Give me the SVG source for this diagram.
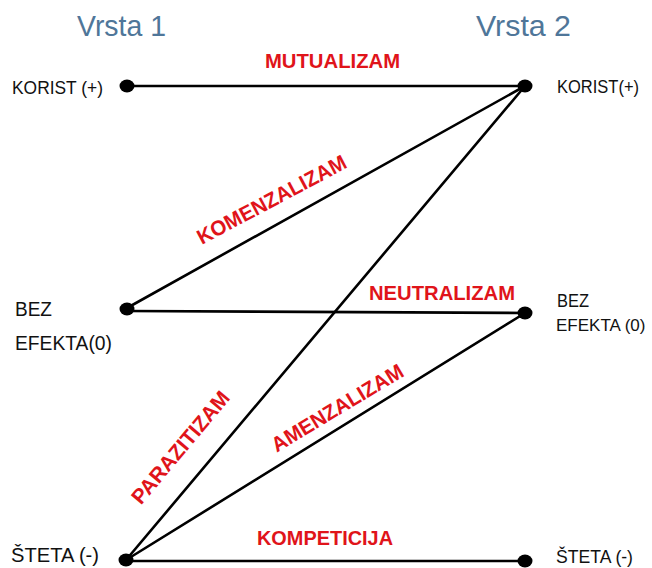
<svg xmlns="http://www.w3.org/2000/svg" width="652" height="568" viewBox="0 0 652 568">
<style>
.title{font-family:"Liberation Sans",Arial,sans-serif;font-size:30px;fill:#4f7699}
.lbl{font-family:"Liberation Sans",Arial,sans-serif;font-size:19px;fill:#111}
.rel{font-family:"Liberation Sans",Arial,sans-serif;font-size:21px;font-weight:bold;fill:#e0141a;text-anchor:middle}
.ln{stroke:#000;stroke-width:2.6;fill:none;stroke-linecap:round}
.dot{fill:#000}
</style>
<rect width="652" height="568" fill="#fff"/>
<text class="title" x="77" y="36" textLength="89" lengthAdjust="spacingAndGlyphs">Vrsta 1</text>
<text class="title" x="476" y="36" textLength="95" lengthAdjust="spacingAndGlyphs">Vrsta 2</text>
<g id="connectors">
<line class="ln" x1="127" y1="86" x2="525" y2="86"/>
<line class="ln" x1="127" y1="308" x2="525" y2="86"/>
<line class="ln" x1="127" y1="311" x2="525" y2="313"/>
<line class="ln" x1="126" y1="560" x2="525" y2="86"/>
<line class="ln" x1="126" y1="560" x2="525" y2="313"/>
<line class="ln" x1="126" y1="561" x2="525" y2="561"/>
</g>
<g id="labels">
<text class="rel" x="332.5" y="68" textLength="135" lengthAdjust="spacingAndGlyphs">MUTUALIZAM</text>
<text class="rel" transform="translate(275 206) rotate(-28)" textLength="166" lengthAdjust="spacingAndGlyphs">KOMENZALIZAM</text>
<text class="rel" x="442" y="300" textLength="146" lengthAdjust="spacingAndGlyphs">NEUTRALIZAM</text>
<text class="rel" transform="translate(186 452) rotate(-50)" textLength="140" lengthAdjust="spacingAndGlyphs">PARAZITIZAM</text>
<text class="rel" transform="translate(341 414) rotate(-31)" textLength="150" lengthAdjust="spacingAndGlyphs">AMENZALIZAM</text>
<text class="rel" x="325" y="545" textLength="136" lengthAdjust="spacingAndGlyphs">KOMPETICIJA</text>
</g>
<g id="v1-korist"><ellipse class="dot" cx="127" cy="86" rx="7.5" ry="6.5"/><text class="lbl" x="12" y="94" textLength="91" lengthAdjust="spacingAndGlyphs">KORIST (+)</text></g>
<g id="v1-bez"><ellipse class="dot" cx="127" cy="309" rx="7.5" ry="6.5"/><text class="lbl" x="15" y="316" style="font-size:20px" textLength="37" lengthAdjust="spacingAndGlyphs">BEZ</text><text class="lbl" x="15" y="350" style="font-size:20px" textLength="97" lengthAdjust="spacingAndGlyphs">EFEKTA(0)</text></g>
<g id="v1-steta"><ellipse class="dot" cx="126" cy="560" rx="7.5" ry="6.5"/><text class="lbl" x="11" y="562" style="font-size:20px" textLength="88" lengthAdjust="spacingAndGlyphs">ŠTETA (-)</text></g>
<g id="v2-korist"><ellipse class="dot" cx="525" cy="86" rx="7.5" ry="6.5"/><text class="lbl" x="557" y="93" textLength="82" lengthAdjust="spacingAndGlyphs">KORIST(+)</text></g>
<g id="v2-bez"><ellipse class="dot" cx="525" cy="313" rx="7.5" ry="6.5"/><text class="lbl" x="557" y="307" textLength="32" lengthAdjust="spacingAndGlyphs">BEZ</text><text class="lbl" x="556" y="331" style="font-size:17px">EFEKTA (0)</text></g>
<g id="v2-steta"><ellipse class="dot" cx="525" cy="561" rx="7.5" ry="6.5"/><text class="lbl" x="556" y="563" textLength="77" lengthAdjust="spacingAndGlyphs">ŠTETA (-)</text></g>
</svg>
